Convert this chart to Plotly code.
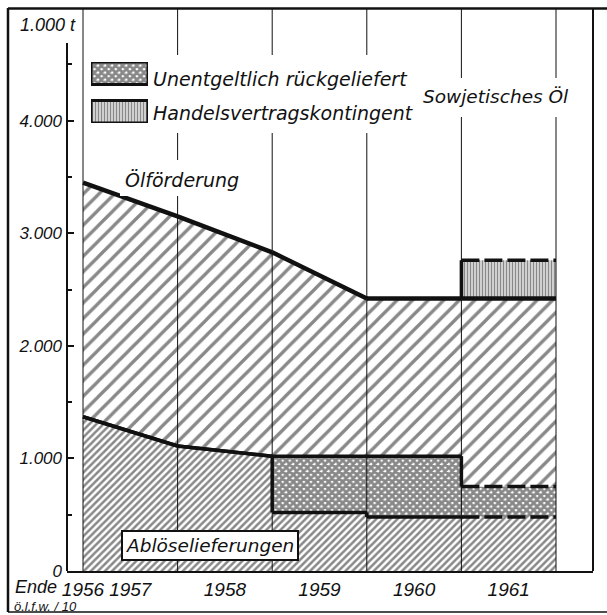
import numpy as np
import plotly.graph_objects as go

# ---------------- data (1.000 t) ----------------
# year-end positions 0..5 = Ende 1956 .. Ende 1961
oelfoerderung = [3450, 3150, 2830, 2420, 2420, 2420]       # Ölförderung at year ends
abloese_stichtag = [1370, 1110, 1020]                      # Ablöselieferungen, Ende 1956..1958 (line)
jahre_stufen = ["1959", "1960", "1961"]                    # years drawn as steps
abloese_jahr = [520, 480, 480]                             # Ablöselieferungen 1959..1961
unentgeltlich = [500, 540, 270]                            # Unentgeltlich rückgeliefert 1959..1961
handelsvertrag = [0, 0, 340]                               # Handelsvertragskontingent 1959..1961
geplant = [False, False, True]                             # dashed outline (1961)
x_ticklabels = ["1956", "1957", "1958", "1959", "1960", "1961"]
y_tickvals = [0, 1000, 2000, 3000, 4000]
y_ticktext = ["0", "1.000", "2.000", "3.000", "4.000"]
y_minor = [500, 1500, 2500, 3500, 4500]

# ---------------- geometry helpers ----------------
W, H = 607, 615
PL, PR, PT, PB = 67, 593, 8, 571
X0_PX, X5_PX = 83, 556
unit = (X5_PX - X0_PX) / 5.0
xr = [(PL - X0_PX) / unit, (PR - X0_PX) / unit]


def px(x):
    return (x - PL) / (PR - PL)


def py(y):
    return (PB - y) / (PB - PT)


FONT = "Liberation Sans"
TFONT = "DejaVu Sans"
BLACK = "#111111"
DASH = "18px,5px"

# ---------------- build paths from data ----------------
n_line = len(abloese_stichtag)
X = list(range(n_line))
seg_dashed = [False] * (n_line - 1)   # per segment between consecutive points
for i in range(len(jahre_stufen)):
    s = n_line - 1 + i
    X += [s, s + 1]
    seg_dashed += [False, geplant[i]]  # vertical step (solid), horizontal run
ab_y = list(abloese_stichtag) + [v for v in abloese_jahr for _ in range(2)]
st_y = list(abloese_stichtag) + [a + u for a, u in zip(abloese_jahr, unentgeltlich) for _ in range(2)]
oil_y = list(np.interp(X, range(len(oelfoerderung)), oelfoerderung))

fig = go.Figure()

PAT_ABL = dict(shape="/", size=5, solidity=0.5)
PAT_UNE = dict(shape="x", size=5, solidity=0.8)
PAT_OEL = dict(shape="/", size=11, solidity=0.3)
PAT_HAN = dict(shape="|", size=3, solidity=0.6)

fills = [(ab_y, "tozeroy", PAT_ABL), (st_y, "tonexty", PAT_UNE), (oil_y, "tonexty", PAT_OEL)]
for yy, fmode, pat in fills:
    fig.add_trace(go.Scatter(
        x=X, y=yy, mode="none", fill=fmode, fillcolor="white",
        fillpattern=dict(fgcolor=BLACK, bgcolor="white", **pat),
        showlegend=False, hoverinfo="skip"))

hx, hy, hb = [], [], []
for i, v in enumerate(handelsvertrag):
    if v > 0:
        s = n_line - 1 + i
        hx.append(s + 0.5)
        hy.append(v)
        hb.append(float(np.interp(s + 1, range(len(oelfoerderung)), oelfoerderung)))
fig.add_trace(go.Bar(
    x=hx, y=hy, base=hb, width=[1.0] * len(hx),
    marker=dict(color="white", line=dict(color=BLACK, width=0),
                pattern=dict(fgcolor=BLACK, bgcolor="white", **PAT_HAN)),
    showlegend=False, hoverinfo="skip"))


def add_path(xs, ys, dashed_flags, width):
    """draw a polyline, solid/dashed per segment"""
    for k in range(len(xs) - 1):
        fig.add_trace(go.Scatter(
            x=[xs[k], xs[k + 1]], y=[ys[k], ys[k + 1]], mode="lines",
            line=dict(color=BLACK, width=width, dash=DASH if dashed_flags[k] else "solid"),
            showlegend=False, hoverinfo="skip"))


add_path(X, ab_y, seg_dashed, 3.5)
add_path(X, st_y, seg_dashed, 3.5)
add_path(X, oil_y, [False] * len(seg_dashed), 4.5)
for c, h, b in zip(hx, hy, hb):
    add_path([c - 0.5, c - 0.5, c + 0.5], [b, b + h, b + h], [False, True], 3.5)

# legend swatches on an auxiliary axis pair
fig.add_trace(go.Bar(
    y=[1, 0], x=[1, 1], base=[0, 0], orientation="h", width=0.58,
    marker=dict(color="white", line=dict(color=BLACK, width=3),
                pattern=dict(shape=[PAT_UNE["shape"], PAT_HAN["shape"]],
                             size=[PAT_UNE["size"], PAT_HAN["size"]],
                             solidity=[PAT_UNE["solidity"], PAT_HAN["solidity"]],
                             fgcolor=BLACK, bgcolor="white")),
    xaxis="x2", yaxis="y2", showlegend=False, hoverinfo="skip"))

# ---------------- shapes ----------------
shapes = []
for k in range(len(oelfoerderung)):
    shapes.append(dict(type="line", xref="x", yref="paper", x0=k, x1=k, y0=0, y1=1,
                       line=dict(color=BLACK, width=1), layer="above"))
for (a, b, c, d) in [(150, 414, 55, 133), (418, 578, 78, 117), (120, 246, 160, 196)]:
    shapes.append(dict(type="rect", xref="paper", yref="paper", x0=px(a), x1=px(b),
                       y0=py(d), y1=py(c), fillcolor="white", line=dict(width=0), layer="above"))
shapes.append(dict(type="line", xref="paper", yref="y", x0=0, x1=0, y0=0, y1=4690,
                   line=dict(color=BLACK, width=2), layer="above"))
shapes.append(dict(type="line", xref="paper", yref="paper", x0=1, x1=1, y0=0, y1=py(8),
                   line=dict(color=BLACK, width=2), layer="above"))
shapes.append(dict(type="line", xref="paper", yref="paper", x0=px(8), x1=px(8), y0=py(612), y1=py(8),
                   line=dict(color=BLACK, width=2.5), layer="above"))
shapes.append(dict(type="line", xref="paper", yref="paper", x0=px(8), x1=px(607), y0=py(8.5), y1=py(8.5),
                   line=dict(color=BLACK, width=2.5), layer="above"))
shapes.append(dict(type="line", xref="paper", yref="paper", x0=px(8), x1=px(607), y0=py(612), y1=py(612),
                   line=dict(color=BLACK, width=1.5), layer="above"))


# ---------------- annotations ----------------
def ann(text, xpx, ypx, size, xanchor="left", family=TFONT, **kw):
    d = dict(text=text, xref="paper", yref="paper", x=px(xpx), y=py(ypx), xanchor=xanchor,
             yanchor="middle", showarrow=False,
             font=dict(family=family, size=size, color=BLACK, style="italic"))
    d.update(kw)
    return d


annotations = [
    ann("1.000 t", 18, 25, 18, family=FONT),
    ann("Unentgeltlich rückgeliefert", 151, 79, 19),
    ann("Handelsvertragskontingent", 151, 113, 19),
    ann("Sowjetisches Öl", 421, 97, 18.5),
    ann("Ölförderung", 123, 180, 19),
    ann("Ablöselieferungen", 210, 545, 18.5, xanchor="center", bgcolor="white",
        bordercolor=BLACK, borderwidth=2, borderpad=3),
    ann("Ende", 13, 587, 18, family=FONT),
    ann("ö.l.f.w. / 10", 12, 606.5, 13, family=FONT),
]

tickx = [0] + [k - 0.5 for k in range(1, len(x_ticklabels))]

fig.update_layout(
    width=W, height=H,
    margin=dict(l=PL, r=W - PR, t=PT, b=H - PB, pad=0),
    paper_bgcolor="white", plot_bgcolor="white",
    showlegend=False,
    barmode="overlay",
    xaxis=dict(range=xr, showgrid=False, zeroline=False, showline=True, linecolor=BLACK,
               linewidth=2, tickmode="array", tickvals=tickx, ticktext=x_ticklabels,
               ticks="", tickfont=dict(family=FONT, size=19, color=BLACK, style="italic"),
               fixedrange=True),
    yaxis=dict(range=[0, 5000], showgrid=False, zeroline=False, showline=False,
               tickmode="array", tickvals=y_tickvals, ticktext=y_ticktext,
               ticks="inside", ticklen=7, tickwidth=1.5, tickcolor=BLACK,
               ticklabelstandoff=4,
               minor=dict(tickmode="array", tickvals=y_minor, ticks="inside", ticklen=5,
                          tickwidth=1.5, tickcolor=BLACK),
               tickfont=dict(family=FONT, size=17, color=BLACK, style="italic"),
               fixedrange=True),
    xaxis2=dict(domain=[px(91), px(148)], range=[0, 1], visible=False, anchor="y2", fixedrange=True),
    yaxis2=dict(domain=[py(123), py(62)], range=[-0.29, 1.29], visible=False, anchor="x2", fixedrange=True),
    shapes=shapes,
    annotations=annotations,
)

fig.write_html("out.html", config={"displayModeBar": False},
               post_script="document.body.style.margin='0';")
